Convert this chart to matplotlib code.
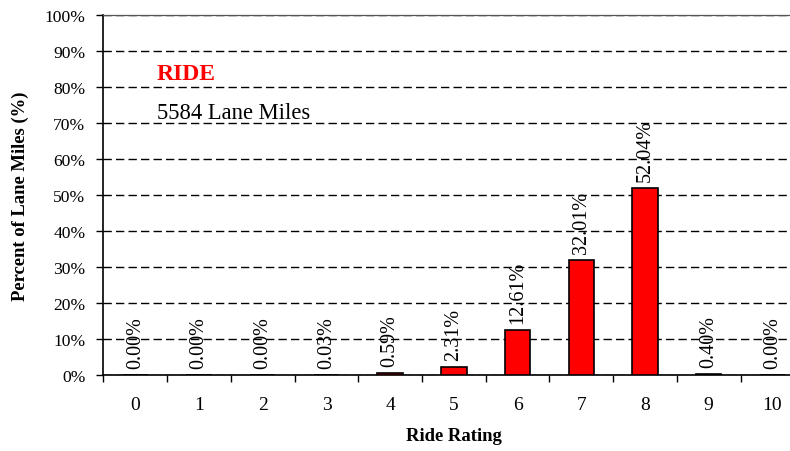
import matplotlib
matplotlib.use("Agg")
import matplotlib.pyplot as plt

ratings = [0, 1, 2, 3, 4, 5, 6, 7, 8, 9, 10]
percents = [0.00, 0.00, 0.00, 0.03, 0.59, 2.31, 12.61, 32.01, 52.04, 0.40, 0.00]
y_ticks = [0, 10, 20, 30, 40, 50, 60, 70, 80, 90, 100]

plt.rcParams["font.family"] = ["Liberation Serif", "DejaVu Serif"]

fig = plt.figure(figsize=(7.9, 4.52), dpi=100)
ax = fig.add_axes([0.131, 0.168, 0.887, 0.797])

bars = ax.bar(ratings, percents, width=0.4, color="#ff0000",
              edgecolor="black", linewidth=1.2, zorder=3)

# value labels above each bar
for x, v in zip(ratings, percents):
    ax.annotate(f"{v:.2f}%", (x, v), xytext=(0, 5), textcoords="offset points",
                rotation=90, ha="center", va="bottom", fontsize=14.5)

ax.set_xlim(-0.5, 10.5)
ax.set_ylim(0, 100)

ax.set_yticks(y_ticks)
ax.set_yticklabels([f"{t}%" for t in y_ticks], fontsize=12.6)
ax.yaxis.grid(True, linestyle=(0, (6, 3)), color="black", linewidth=1.0)
ax.set_axisbelow(True)
ax.tick_params(axis="y", direction="out", length=5, width=1, pad=8)

# category labels centred, tick marks between categories
ax.set_xticks(ratings)
ax.set_xticklabels([str(r) for r in ratings], fontsize=14)
ax.set_xticks([r - 0.5 for r in ratings] + [10.5], minor=True)
ax.tick_params(axis="x", which="major", length=0, pad=15)
ax.tick_params(axis="x", which="minor", direction="out", length=5, width=1)

for side in ["left", "bottom"]:
    ax.spines[side].set_linewidth(1.2)
ax.spines["top"].set_color("#555555")
ax.spines["top"].set_linewidth(0.9)
ax.spines["right"].set_visible(False)

ax.set_xlabel("Ride Rating", fontsize=13.4, fontweight="bold", labelpad=10)
ax.set_ylabel("Percent of Lane Miles (%)", fontsize=13.4, fontweight="bold", labelpad=11)

ax.text(0.34, 82.2, "RIDE", color="#ff0000", fontsize=17, fontweight="bold",
        va="baseline", ha="left")
ax.text(0.34, 71.4, "5584 Lane Miles", color="black", fontsize=16.3,
        va="baseline", ha="left")

fig.savefig("out.png", dpi=100)
plt.close(fig)
